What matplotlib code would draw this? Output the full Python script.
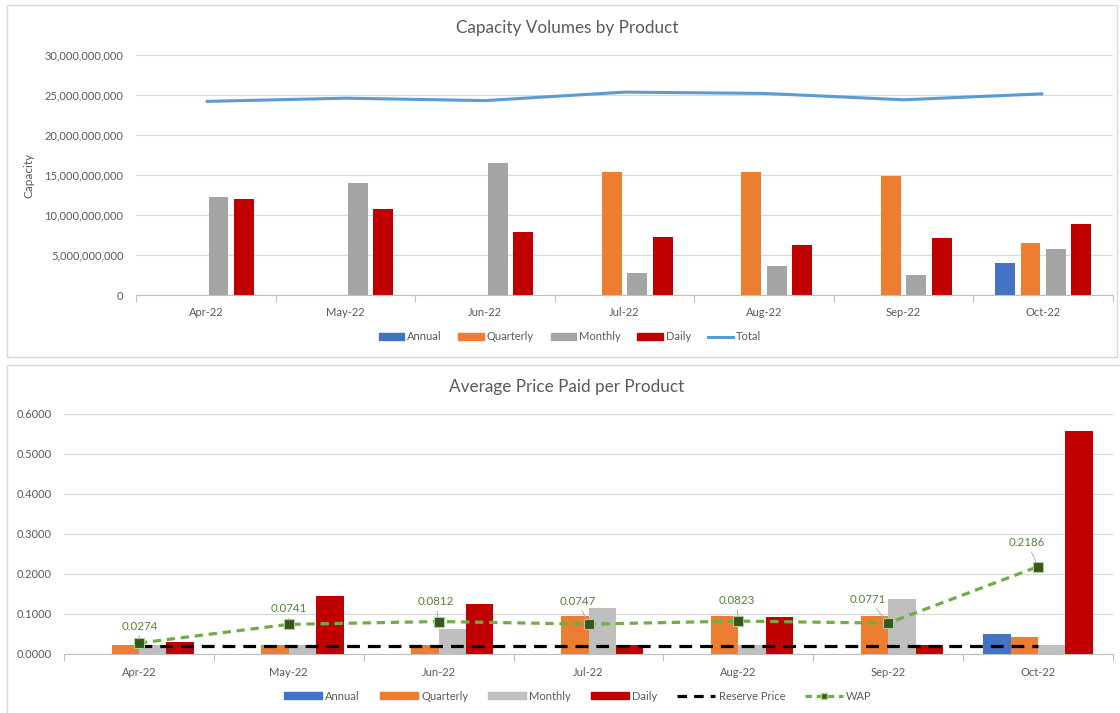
import matplotlib
matplotlib.use("Agg")
import matplotlib.pyplot as plt
import numpy as np
from matplotlib.patches import Rectangle, Patch
from matplotlib.lines import Line2D
from matplotlib.ticker import FuncFormatter

plt.rcParams['font.family'] = ['Lato', 'DejaVu Sans']

months = ['Apr-22', 'May-22', 'Jun-22', 'Jul-22', 'Aug-22', 'Sep-22', 'Oct-22']
products = ['Annual', 'Quarterly', 'Monthly', 'Daily']

# capacity volumes
cap_annual = [0, 0, 0, 0, 0, 0, 4.01e9]
cap_quarterly = [0, 0, 0, 15.33e9, 15.33e9, 14.87e9, 6.48e9]
cap_monthly = [12.24e9, 14.0e9, 16.46e9, 2.72e9, 3.59e9, 2.55e9, 5.81e9]
cap_daily = [11.95e9, 10.74e9, 7.9e9, 7.31e9, 6.27e9, 7.10e9, 8.86e9]
cap_total = [24.2e9, 24.6e9, 24.3e9, 25.36e9, 25.2e9, 24.4e9, 25.15e9]

# average price paid
price_annual = [0, 0, 0, 0, 0, 0, 0.0509]
price_quarterly = [0.0217, 0.0217, 0.0220, 0.0951, 0.0950, 0.0950, 0.0417]
price_monthly = [0.0220, 0.0220, 0.0626, 0.1160, 0.0225, 0.1369, 0.0234]
price_daily = [0.0310, 0.1444, 0.1243, 0.0225, 0.0918, 0.0225, 0.5580]
reserve_price = [0.020] * 7
wap = [0.0274, 0.0741, 0.0812, 0.0747, 0.0823, 0.0771, 0.2186]
wap_labels = ['0.0274', '0.0741', '0.0812', '0.0747', '0.0823', '0.0771', '0.2186']

colors = ['#4472C4', '#ED7D31', '#A5A5A5', '#C00000']
txt = '#595959'
grid = '#D9D9D9'

W, H = 1120, 713
fig = plt.figure(figsize=(W / 100, H / 100), dpi=100)


def px_axes(x0, y0, x1, y1):
    return fig.add_axes([x0 / W, 1 - y1 / H, (x1 - x0) / W, (y1 - y0) / H])


def style(ax):
    for s in ['top', 'right', 'left']:
        ax.spines[s].set_visible(False)
    ax.spines['bottom'].set_color('#BFBFBF')
    ax.spines['bottom'].set_linewidth(0.8)
    ax.yaxis.grid(True, color=grid, lw=0.9)
    ax.set_axisbelow(True)
    ax.set_xlim(-0.5, 6.5)
    ax.set_xticks(range(7))
    ax.set_xticklabels(months)
    ax.set_xticks(np.arange(-0.5, 7, 1), minor=True)
    ax.tick_params(axis='x', which='major', length=0, pad=9, labelsize=8, labelcolor=txt)
    ax.tick_params(axis='x', which='minor', length=5, color='#BFBFBF', width=0.8)
    ax.tick_params(axis='y', length=0, labelsize=8, labelcolor=txt, pad=9)


# panel borders
fig.patches.append(Rectangle((7 / W, 1 - 357 / H), 1110 / W, 352 / H, transform=fig.transFigure,
                             fill=False, edgecolor=grid, lw=1))
fig.patches.append(Rectangle((7 / W, -0.05), 1.2, 1 - 365 / H + 0.05, transform=fig.transFigure,
                             fill=False, edgecolor=grid, lw=1))

# ---- top chart
ax1 = px_axes(136, 55, 1113, 295)
x = np.arange(7)
step = 0.182
for k, vals in enumerate([cap_annual, cap_quarterly, cap_monthly, cap_daily]):
    ax1.bar(x + (k - 1.5) * step, vals, width=0.143, color=colors[k], zorder=2)
ax1.plot(x, cap_total, color='#5B9BD5', lw=2.2, zorder=3, solid_capstyle='butt')
ax1.set_ylim(0, 30e9)
ax1.set_yticks(np.arange(0, 30.1e9, 5e9))
ax1.yaxis.set_major_formatter(FuncFormatter(lambda v, p: f'{v:,.0f}'))
style(ax1)
ax1.set_ylabel('Capacity', fontsize=8.5, color=txt, labelpad=7)
fig.text(567 / W, 1 - 28 / H, 'Capacity Volumes by Product', ha='center', va='center',
         fontsize=12.3, color=txt)

h1 = [Patch(color=c) for c in colors] + [Line2D([], [], color='#5B9BD5', lw=2.2)]
fig.legend(h1, products + ['Total'], loc='center', bbox_to_anchor=(570 / W, 1 - 337 / H),
           ncol=5, frameon=False, fontsize=8, labelcolor=txt, handlelength=2.3,
           handleheight=0.55, handletextpad=0.25, columnspacing=1.5)

# ---- bottom chart
ax2 = px_axes(64, 414, 1113, 654)
step2 = 0.183
for k, vals in enumerate([price_annual, price_quarterly, price_monthly, price_daily]):
    c = '#BFBFBF' if k == 2 else colors[k]
    ax2.bar(x + (k - 1.5) * step2, vals, width=step2, color=c, zorder=2)
ax2.plot(x, reserve_price, color='black', lw=2.3, dashes=(4, 2.5), zorder=3)
ax2.plot(x, wap, color='#70AD47', lw=2.3, dashes=(2.6, 1.8), zorder=4,
         marker='s', markersize=7, markerfacecolor='#375623', markeredgecolor='#A9D18E',
         markeredgewidth=0.8)
ax2.set_ylim(0, 0.6)
ax2.set_yticks(np.arange(0, 0.61, 0.1))
ax2.yaxis.set_major_formatter(FuncFormatter(lambda v, p: f'{v:.4f}'))
style(ax2)

label_offsets = [(1, 17), (0, 16), (-3, 20), (-11, 23), (-2, 21), (-20, 24), (-11, 24)]
for i, (v, lab) in enumerate(zip(wap, wap_labels)):
    dx, dy = label_offsets[i]
    ax2.annotate(lab, xy=(i, v), xytext=(dx * 0.72, dy * 0.72), textcoords='offset points',
                 ha='center', va='center', fontsize=8.3, color='#548235', zorder=5,
                 arrowprops=dict(arrowstyle='-', color='#A6A6A6', lw=0.6, shrinkA=1, shrinkB=3))

fig.text(567 / W, 1 - 387 / H, 'Average Price Paid per Product', ha='center', va='center',
         fontsize=12.3, color=txt)

h2 = [Patch(color=c) for c in ['#4472C4', '#ED7D31', '#BFBFBF', '#C00000']]
h2 += [Line2D([], [], color='black', lw=2.3, dashes=(3, 2.2)),
       Line2D([], [], color='#70AD47', lw=2.3, dashes=(2, 1.5), marker='s', markersize=5,
              markerfacecolor='#375623', markeredgecolor='#A9D18E')]
fig.legend(h2, products + ['Reserve Price', 'WAP'], loc='center',
           bbox_to_anchor=(578 / W, 1 - 696 / H), ncol=6, frameon=False, fontsize=8,
           labelcolor=txt, handlelength=3.4, handleheight=0.55, handletextpad=0.3,
           columnspacing=1.8)

fig.savefig('out.png', dpi=100)
